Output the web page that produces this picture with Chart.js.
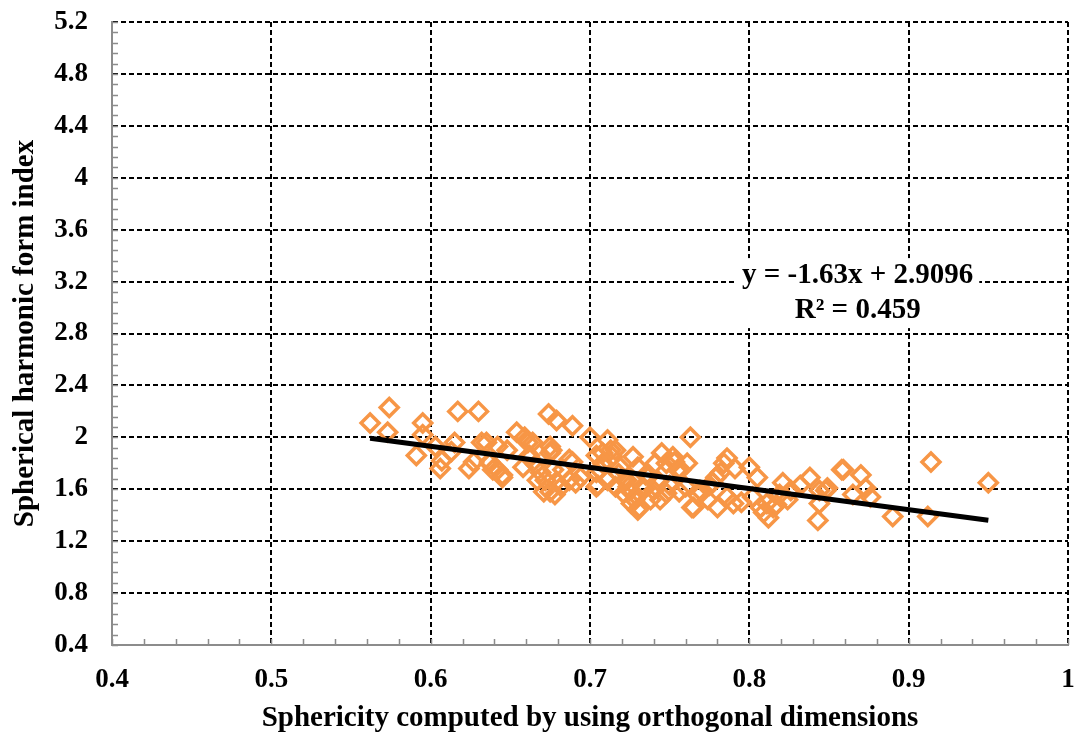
<!DOCTYPE html>
<html>
<head>
<meta charset="utf-8">
<script src="https://cdn.jsdelivr.net/npm/chart.js@4/dist/chart.umd.min.js"></script>
<style>
html,body{margin:0;padding:0;background:#fff;}
#wrap{width:1081px;height:740px;}
</style>
</head>
<body>
<div id="wrap"><canvas id="c" width="1081" height="740"></canvas></div>
<script>
// ---- data ----
const sphericity = [
0.562,0.574,0.573,0.595,0.595,0.591,0.606,0.607,0.617,0.630,0.615,0.613,0.603,0.624,0.627,
0.632,0.637,0.642,0.645,0.654,0.659,0.662,0.666,0.669,0.674,0.679,0.689,0.676,0.672,0.675,
0.683,0.687,0.691,0.700,0.704,0.706,0.705,0.661,0.664,0.675,0.675,0.642,0.648,0.635,0.637,
0.645,0.639,0.658,0.662,0.667,0.671,0.677,0.679,0.678,0.682,0.687,0.689,0.694,0.704,0.704,
0.708,0.711,0.708,0.714,0.719,0.711,0.723,0.727,0.730,0.721,0.726,0.731,0.738,0.740,0.741,
0.745,0.748,0.752,0.755,0.761,0.760,0.763,0.765,0.769,0.774,0.777,0.784,0.780,0.744,0.748,
0.733,0.716,0.713,0.716,0.722,0.725,0.728,0.730,0.735,0.750,0.753,0.757,0.764,0.775,0.779,
0.782,0.786,0.791,0.800,0.805,0.786,0.790,0.802,0.807,0.812,0.809,0.821,0.824,0.838,0.832,
0.844,0.849,0.844,0.843,0.859,0.815,0.811,0.819,0.826,0.858,0.870,0.873,0.876,0.865,0.848,
0.890,0.914,0.912,0.950,0.734,0.729,0.743,0.737,0.724,0.718,0.756,0.768,0.795,0.817
];
const formIndex = [
2.11,2.23,2.04,2.11,2.02,1.86,1.76,1.82,2.20,2.20,1.96,1.89,1.93,1.76,1.81,
1.96,1.81,1.75,1.71,2.04,2.00,1.86,1.79,1.73,2.18,2.13,2.09,1.90,1.67,1.58,
1.75,1.83,1.65,2.00,1.86,1.75,1.63,1.96,1.96,1.93,1.88,1.93,1.90,1.96,1.80,
1.69,1.75,1.77,1.84,1.67,1.58,1.75,1.66,1.56,1.62,1.67,1.81,1.69,1.62,1.73,
1.80,1.98,1.88,1.85,1.77,1.67,1.67,1.85,1.77,1.57,1.49,1.46,1.52,1.59,1.80,
1.88,1.80,1.85,1.75,1.80,1.62,2.00,1.46,1.59,1.52,1.65,1.80,1.46,1.52,1.57,
1.62,1.62,1.90,1.90,1.67,1.59,1.52,1.44,1.71,1.63,1.81,1.75,1.46,1.63,1.69,
1.73,1.84,1.76,1.77,1.69,1.54,1.49,1.54,1.46,1.38,1.42,1.65,1.52,1.69,1.63,
1.59,1.61,1.49,1.36,1.75,1.46,1.49,1.56,1.59,1.75,1.71,1.61,1.54,1.56,1.59,
1.39,1.81,1.39,1.65,1.60,1.55,1.66,1.70,1.62,1.72,1.58,1.55,1.50,1.48
];
const trendX = [0.562, 0.950];
const trendY = [1.993, 1.361];
const xTicks = [0.4, 0.5, 0.6, 0.7, 0.8, 0.9, 1.0];
const yTicks = [0.4, 0.8, 1.2, 1.6, 2.0, 2.4, 2.8, 3.2, 3.6, 4.0, 4.4, 4.8, 5.2];
const xTitle = 'Sphericity computed by using orthogonal dimensions';
const yTitle = 'Spherical harmonic form index';
const eqLines = ['y = -1.63x + 2.9096', 'R\u00B2 = 0.459'];

const FONT = '"Liberation Serif", "Times New Roman", serif';
const ORANGE = '#F79646';

const minorTicks = {
  id: 'minorTicks',
  beforeDatasetsDraw(chart) {
    const {ctx, chartArea: a, scales: {x, y}} = chart;
    ctx.save();
    ctx.strokeStyle = '#8c8c8c';
    ctx.lineWidth = 1.5;
    ctx.beginPath();
    for (let i = 0; i <= 30; i++) {
      const px = Math.round(x.getPixelForValue(0.4 + i * 0.02)) + 0.5;
      ctx.moveTo(px, a.bottom); ctx.lineTo(px, a.bottom - 6);
    }
    for (let i = 0; i <= 60; i++) {
      const py = Math.round(y.getPixelForValue(0.4 + i * 0.08)) + 0.5;
      ctx.moveTo(a.left, py); ctx.lineTo(a.left + 6, py);
    }
    ctx.stroke();
    ctx.restore();
  }
};

const eqLabel = {
  id: 'eqLabel',
  afterDatasetsDraw(chart) {
    const {ctx, scales: {x, y}} = chart;
    const cx = x.getPixelForValue(0.868);
    const cy = y.getPixelForValue(3.25);
    ctx.save();
    ctx.font = 'bold 29px ' + FONT;
    ctx.textAlign = 'center';
    ctx.textBaseline = 'middle';
    const lh = 35;
    let w = 0;
    eqLines.forEach(t => { w = Math.max(w, ctx.measureText(t).width); });
    ctx.fillStyle = '#fff';
    ctx.fillRect(cx - w / 2 - 6, cy - 17, w + 12, lh * eqLines.length);
    ctx.fillStyle = '#000';
    eqLines.forEach((t, i) => ctx.fillText(t, cx, cy + i * lh));
    ctx.restore();
  }
};

new Chart(document.getElementById('c'), {
  data: {
    datasets: [
      {
        type: 'scatter',
        data: sphericity.map((v, i) => ({x: v, y: formIndex[i]})),
        pointStyle: 'rectRot',
        pointRadius: 9,
        pointBorderWidth: 3.5,
        pointBorderColor: ORANGE,
        pointBackgroundColor: 'rgba(0,0,0,0)',
        order: 2
      },
      {
        type: 'line',
        data: trendX.map((v, i) => ({x: v, y: trendY[i]})),
        borderColor: '#000',
        borderWidth: 5,
        pointRadius: 0,
        fill: false,
        order: 1
      }
    ]
  },
  options: {
    responsive: false,
    animation: false,
    events: [],
    layout: {padding: {top: 22, right: 13, left: 0, bottom: 0}},
    plugins: {legend: {display: false}, tooltip: {enabled: false}},
    scales: {
      x: {
        type: 'linear',
        min: 0.4, max: 1.0,
        afterBuildTicks(s) { s.ticks = xTicks.map(v => ({value: v})); },
        afterFit(s) { s.height = 95; s.paddingLeft = 0; s.paddingRight = 0; },
        ticks: {
          color: '#000',
          font: {family: FONT, size: 27, weight: 'bold'},
          padding: 19,
          maxRotation: 0,
          autoSkip: false,
          callback: v => String(Math.round(v * 10) / 10)
        },
        grid: {
          color: c => (c.tick && Math.abs(c.tick.value - 0.4) < 1e-9) ? 'rgba(0,0,0,0)' : '#000',
          lineWidth: 2,
          drawTicks: false
        },
        border: {display: true, color: '#8c8c8c', width: 2, dash: [5, 3]},
        title: {
          display: true, text: xTitle, color: '#000',
          font: {family: FONT, size: 29, weight: 'bold'},
          padding: {top: 0, bottom: 4}
        }
      },
      y: {
        type: 'linear',
        min: 0.4, max: 5.2,
        afterBuildTicks(s) { s.ticks = yTicks.map(v => ({value: v})); },
        afterFit(s) { s.width = 112; s.paddingTop = 0; s.paddingBottom = 0; },
        ticks: {
          color: '#000',
          font: {family: FONT, size: 27, weight: 'bold'},
          padding: 24,
          autoSkip: false,
          callback: v => String(Math.round(v * 10) / 10)
        },
        grid: {
          color: c => (c.tick && Math.abs(c.tick.value - 0.4) < 1e-9) ? 'rgba(0,0,0,0)' : '#000',
          lineWidth: 2,
          drawTicks: false
        },
        border: {display: true, color: '#8c8c8c', width: 2, dash: [5, 3]},
        title: {
          display: true, text: yTitle, color: '#000',
          font: {family: FONT, size: 29, weight: 'bold'},
          padding: {top: 8, bottom: 0}
        }
      }
    }
  },
  plugins: [minorTicks, eqLabel]
});
</script>
</body>
</html>
